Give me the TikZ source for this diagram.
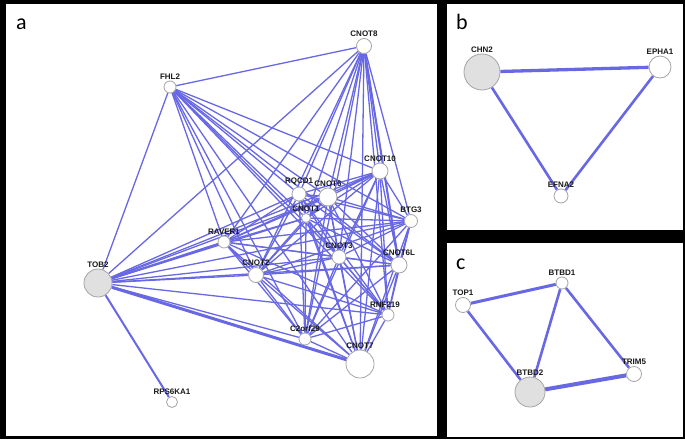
\documentclass[tikz,border=0pt]{standalone}
\usepackage{fontspec}
\setmainfont{Liberation Sans}
\newfontfamily\panelfont{Carlito}
\usetikzlibrary{positioning}
\pgfdeclarelayer{panel}
\pgfdeclarelayer{edge}
\pgfsetlayers{panel,edge,main}
\definecolor{edgeblue}{RGB}{104,104,228}
\definecolor{nodegray}{RGB}{165,165,165}
\definecolor{hubfill}{RGB}{224,224,224}

\begin{document}
\begin{tikzpicture}[x=1pt, y=-1pt, every node/.style={font=\fontsize{8}{9}\selectfont\bfseries}]
\tikzstyle{gene}=[circle, draw=nodegray, fill=white, line width=0.8pt, inner sep=0pt, label distance=2.5pt]
\tikzstyle{hub}=[gene, fill=hubfill]
\tikzstyle{link}=[draw=edgeblue, line width=1.3pt]
\tikzstyle{tag}=[font=\panelfont\fontsize{22}{24}\selectfont, anchor=base west, inner sep=0pt]
\tikzset{every label/.style={inner sep=1pt, text=black!90}}

% panels
\begin{pgfonlayer}{panel}
\fill[black] (0,0) rectangle (685,439);
\fill[white] (6,4) rectangle (437,436);
\fill[white] (447,4) rectangle (683,230);
\fill[white] (447,243) rectangle (683,437);
\end{pgfonlayer}

\node[tag] (tagA) at (16,29) {a};
\node[tag] (tagB) at (456,29) {b};
\node[tag] (tagC) at (456,269) {c};

% panel a
\node[gene, minimum size=15pt, label=above:CNOT8] (cnot8) at (364,46) {};
\node[gene, minimum size=12pt, label=above:FHL2] (fhl2) at (170,87) {};
\node[gene, minimum size=16pt, label=above:CNOT10] (cnot10) at (380,171) {};
\node[gene, minimum size=14pt, label=above:RQCD1] (rqcd1) at (299,194) {};
\node[gene, minimum size=18pt, label=above:CNOT6] (cnot6) at (328,197) {};
\node[gene, minimum size=9pt, label=above:CNOT1] (cnot1) at (306,218) {};
\node[gene, minimum size=13pt, label=above:BTG3] (btg3) at (411,221) {};
\node[gene, minimum size=12pt, label=above:RAVER1] (raver1) at (224,242) {};
\node[gene, minimum size=14pt, label=above:CNOT3] (cnot3) at (339,257) {};
\node[gene, minimum size=16pt, label=above:CNOT6L] (cnot6l) at (399,265) {};
\node[gene, minimum size=15pt, label=above:CNOT2] (cnot2) at (256,275) {};
\node[gene, minimum size=12pt, label={[xshift=-3pt]above:RNF219}] (rnf219) at (388,315) {};
\node[gene, minimum size=12pt, label=above:C2orf29] (c2orf29) at (305,339) {};
\node[gene, minimum size=28pt, label=above:CNOT7] (cnot7) at (360,364) {};
\node[hub, minimum size=28pt, label=above:TOB2] (tob2) at (98,283) {};
\node[gene, minimum size=11pt, label=above:RPS6KA1] (rps6ka1) at (172,402) {};

% panel b
\node[hub, minimum size=36pt, label=above:CHN2] (chn2) at (482,72) {};
\node[gene, minimum size=22pt, label=above:EPHA1] (epha1) at (660,67) {};
\node[gene, minimum size=14pt, label=above:EFNA2] (efna2) at (561,196) {};

% panel c
\node[gene, minimum size=15pt, label=above:TOP1] (top1) at (463,305) {};
\node[gene, minimum size=12pt, label=above:BTBD1] (btbd1) at (562,283) {};
\node[gene, minimum size=15pt, label=above:TRIM5] (trim5) at (634,374) {};
\node[hub, minimum size=30pt, label=above:BTBD2] (btbd2) at (530,392) {};

\begin{pgfonlayer}{edge}
\foreach \a [count=\i] in {cnot8,fhl2,tob2,cnot10,rqcd1,cnot6,cnot1,btg3,raver1,cnot3,cnot6l,cnot2,rnf219,c2orf29,cnot7}{
  \foreach \b [count=\j] in {cnot8,fhl2,tob2,cnot10,rqcd1,cnot6,cnot1,btg3,raver1,cnot3,cnot6l,cnot2,rnf219,c2orf29,cnot7}{
    \ifnum\j>\i \draw[link] (\a) -- (\b); \fi
  }
}
\draw[link, line width=2pt] (tob2) -- (rps6ka1);
\draw[link, line width=3pt] (tob2) -- (cnot7);
\draw[link, line width=2pt] (tob2) -- (raver1);
\draw[link, line width=2pt] (cnot8) -- (cnot6l);
\draw[link, line width=3.3pt] (chn2) -- (epha1);
\draw[link, line width=2.6pt] (chn2) -- (efna2);
\draw[link, line width=2.6pt] (epha1) -- (efna2);
\draw[link, line width=3pt] (top1) -- (btbd1);
\draw[link, line width=2.6pt] (top1) -- (btbd2);
\draw[link, line width=2.6pt] (btbd1) -- (btbd2);
\draw[link, line width=2.6pt] (btbd1) -- (trim5);
\draw[link, line width=4pt] (btbd2) -- (trim5);
\end{pgfonlayer}
\end{tikzpicture}
\end{document}
